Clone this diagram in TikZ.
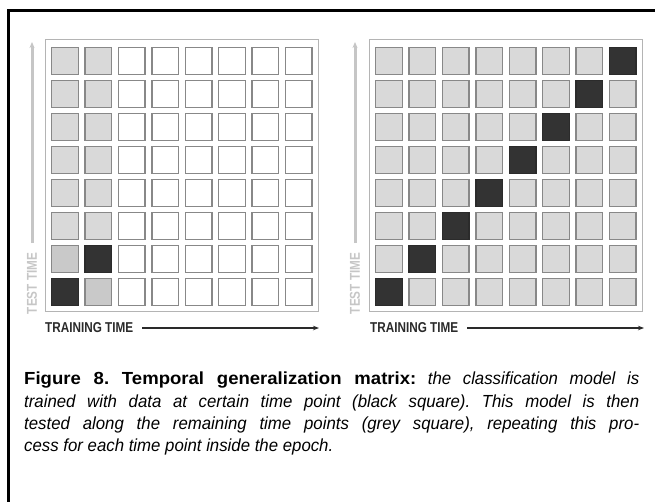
\documentclass[tikz,border=0pt]{standalone}
\usepackage{fontspec}
\newfontfamily\narrowsf{Liberation Sans}[FakeStretch=0.82]
\newfontfamily\capsf{Liberation Sans}[FakeStretch=0.96, BoldFeatures={FakeStretch=1.06}]
\usetikzlibrary{arrows.meta,positioning}

\definecolor{cellgrey}{HTML}{D9D9D9}
\definecolor{cellgreyb}{HTML}{C9C9C9}
\definecolor{celldark}{HTML}{333333}
\definecolor{celledge}{HTML}{888888}
\definecolor{boxedge}{HTML}{B4B4B4}
\definecolor{axislight}{HTML}{C6C6C6}
\definecolor{axisdark}{HTML}{2A2A2A}

\begin{document}
\frenchspacing
\begin{tikzpicture}[
  x=1pt, y=-1pt,
  font=\narrowsf,
  panel/.style={draw=boxedge, line width=1.4pt, minimum width=272.5pt, minimum height=271.5pt, inner sep=0pt},
  idle/.style={draw=celledge, line width=1.4pt, fill=white, minimum size=26.6pt, inner sep=0pt},
  tested/.style={idle, fill=cellgrey},
  testedb/.style={idle, fill=cellgreyb},
  trained/.style={idle, fill=celldark, draw=celldark!85!black},
  axislab/.style={inner sep=0pt, font=\narrowsf\fontsize{14.3}{15}\selectfont\bfseries},
  yaxis/.style={draw=axislight, line width=3pt, -{Stealth[length=6pt,width=5pt]}},
  xaxis/.style={draw=axisdark, line width=2pt, -{Stealth[length=6pt,width=4.5pt]}},
  caption/.style={inner sep=0pt, text width=615pt, align=justify, font=\capsf\fontsize{17.5}{22.3}\selectfont},
  frame/.style={draw=black, line width=3pt}
]
\useasboundingbox (0,0) rectangle (655,501);
\clip (0,0) rectangle (655,501);
\draw[frame] (8.5,10) rectangle (700,560);

% left matrix: model trained at early points
\node[panel] (Lbox) at (182,175.5) {};
\foreach \c in {1,...,8}
  \foreach \r in {1,...,8} {
    \ifnum\c<3
      \ifnum\c=\r \def\kind{trained}\else
        \ifnum\r<3 \def\kind{testedb}\else\def\kind{tested}\fi\fi
    \else \def\kind{idle}\fi
    \node[\kind] (L-\c-\r) at ({65+33.4*(\c-1)},{292-33*(\r-1)}) {};
  }

% right matrix: every time point
\node[panel] (Rbox) at (506,175.5) {};
\foreach \c in {1,...,8}
  \foreach \r in {1,...,8} {
    \ifnum\c=\r \def\kind{trained}\else\def\kind{tested}\fi
    \node[\kind] (R-\c-\r) at ({389+33.4*(\c-1)},{292-33*(\r-1)}) {};
  }

% axes
\coordinate (Ly0) at (32,243);
\coordinate (Ly1) at (32,42);
\draw[yaxis] (Ly0) -- (Ly1);
\node[axislab, text=axislight, rotate=90] (Lylab) at (32,283.5) {TEST TIME};
\node[axislab, text=axisdark, anchor=west] (Lxlab) at (45,328) {TRAINING TIME};
\coordinate (Lx1) at (319,328);
\draw[xaxis] ([xshift=9pt]Lxlab.east) -- (Lx1);

\coordinate (Ry0) at (355,243);
\coordinate (Ry1) at (355,42);
\draw[yaxis] (Ry0) -- (Ry1);
\node[axislab, text=axislight, rotate=90] (Rylab) at (355,283.5) {TEST TIME};
\node[axislab, text=axisdark, anchor=west] (Rxlab) at (370,328) {TRAINING TIME};
\coordinate (Rx1) at (644,328);
\draw[xaxis] ([xshift=9pt]Rxlab.east) -- (Rx1);

% caption
\node[caption, anchor=north west] (cap) at (24,372) {\textbf{Figure 8. Temporal generalization matrix:} \textit{the classification model is\linebreak trained with data at certain time point (black square). This model is then\linebreak tested along the remaining time points (grey square), repeating this pro-\linebreak cess for each time point inside the epoch.}};
\end{tikzpicture}
\end{document}
